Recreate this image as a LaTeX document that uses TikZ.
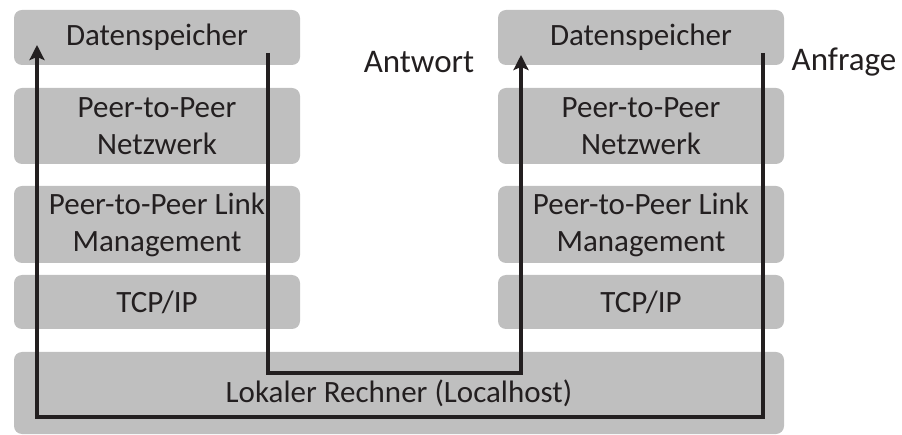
\documentclass[tikz,border=0pt]{standalone}
\usepackage{fontspec}
\setmainfont{Carlito}
\usetikzlibrary{arrows.meta}
\definecolor{boxgray}{RGB}{191,191,191}
\definecolor{ink}{RGB}{35,31,32}
\tikzset{
  layer/.style={fill=boxgray, rounded corners=8pt, minimum width=286pt, inner sep=0pt,
    align=center, text=ink, font=\fontsize{31}{37}\selectfont},
  flow/.style={draw=ink, line width=3.6pt, line join=miter, -{Stealth[length=15pt,width=15pt,inset=3pt]}},
  lbl/.style={text=ink, font=\fontsize{33}{40}\selectfont, anchor=base, inner sep=0pt}
}
\begin{document}
\begin{tikzpicture}[x=1pt,y=-1pt]
\useasboundingbox (0,0) rectangle (902,435);
% left stack
\node[layer, minimum height=55pt] (l1) at (157,37.5) {Datenspeicher};
\node[layer, minimum height=76pt] (l2) at (157,126) {Peer-to-Peer\\Netzwerk};
\node[layer, minimum height=77pt] (l3) at (157,224.5) {Peer-to-Peer Link\\Management};
\node[layer, minimum height=54pt] (l4) at (157,302) {TCP/IP};
% right stack
\node[layer, minimum height=55pt] (r1) at (641,37.5) {Datenspeicher};
\node[layer, minimum height=76pt] (r2) at (641,126) {Peer-to-Peer\\Netzwerk};
\node[layer, minimum height=77pt] (r3) at (641,224.5) {Peer-to-Peer Link\\Management};
\node[layer, minimum height=54pt] (r4) at (641,302) {TCP/IP};
% base
\node[layer, minimum width=770pt, minimum height=82pt] (base) at (399,393) {Lokaler Rechner (Localhost)};
% labels
\node[lbl] (antwort) at (419,73) {Antwort};
\node[lbl] (anfrage) at (844,71) {Anfrage};
% flows
\coordinate (ansS) at (268,53);
\coordinate (ansE) at (521,55);
\coordinate (reqS) at (763,53);
\coordinate (reqE) at (37,45);
\draw[flow] (ansS) -- ++(0,320) -| (ansE);
\draw[flow] (reqS) -- ++(0,364) -| (reqE);
\end{tikzpicture}
\end{document}
